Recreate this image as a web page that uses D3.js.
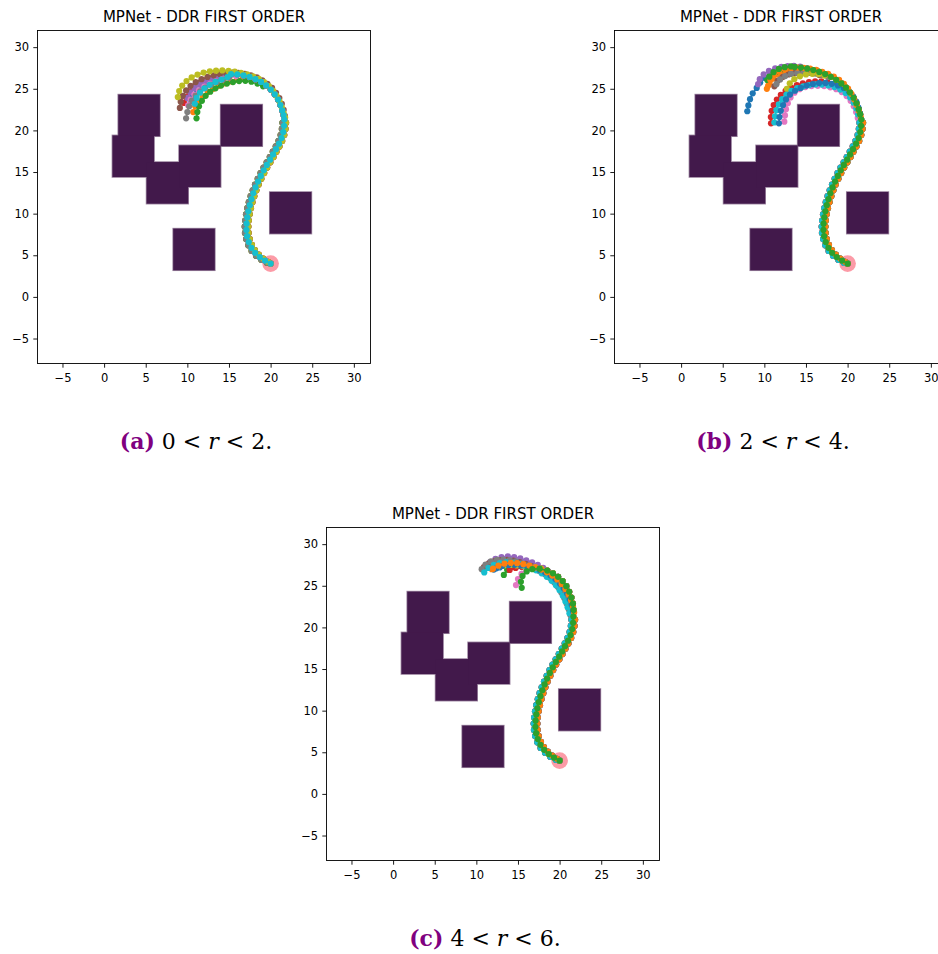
<!DOCTYPE html>
<html>
<head>
<meta charset="utf-8">
<script src="https://cdn.jsdelivr.net/npm/d3@7"></script>
<style>
  body { margin: 0; background: #fff; }
  svg { display: block; }
</style>
</head>
<body>
<div id="chart"></div>
<script>
// ---------------- data ----------------
const tab10 = ['#1f77b4','#ff7f0e','#2ca02c','#d62728','#9467bd','#8c564b','#e377c2','#7f7f7f','#bcbd22','#17becf'];
const ticks = [-5, 0, 5, 10, 15, 20, 25, 30];
const domain = [-8, 32];
const goal = [20, 4];
const obstacleSize = 5;
// lower-left corners of the 5x5 obstacles
const obstacles = [[1.7,19.3],[1.0,14.4],[5.1,11.2],[9.0,13.2],[14.0,18.1],[19.9,7.6],[8.3,3.2]];
const captionLabels = ['(a)', '(b)', '(c)'];
const rLow = [0, 2, 4];
const rHigh = [2, 4, 6];

// common descending part of every path, three neighbouring lanes
const tailMid = [[21.65,21.3],[21.62,20.55],[21.52,19.8],[21.32,19.08],[21.02,18.4],[20.65,17.75],[20.3,17.12],[19.95,16.48],[19.55,15.85],[19.18,15.2],[18.83,14.53],[18.5,13.85],[18.2,13.15],[17.93,12.45],[17.7,11.74],[17.5,11.02],[17.33,10.29],[17.2,9.55],[17.12,8.8],[17.1,8.05],[17.18,7.3],[17.38,6.58],[17.7,5.9],[18.15,5.3],[18.7,4.78],[19.33,4.36],[20.0,4.0]];
const tailRight = [[21.86,20.92],[21.79,20.18],[21.64,19.44],[21.39,18.74],[21.06,18.08],[20.7,17.44],[20.35,16.8],[19.97,16.17],[19.59,15.53],[19.23,14.87],[18.89,14.19],[18.57,13.5],[18.29,12.8],[18.04,12.1],[17.82,11.38],[17.64,10.66],[17.49,9.92],[17.38,9.18],[17.33,8.43],[17.36,7.68],[17.5,6.94],[17.76,6.24],[18.12,5.62],[18.58,5.08],[19.12,4.6],[19.7,4.22],[20.0,4.0]];
const tailLeft = [[21.42,20.92],[21.35,20.18],[21.2,19.44],[20.95,18.74],[20.62,18.08],[20.26,17.44],[19.9,16.8],[19.53,16.17],[19.15,15.53],[18.79,14.87],[18.45,14.19],[18.13,13.5],[17.85,12.8],[17.6,12.1],[17.38,11.38],[17.2,10.66],[17.05,9.92],[16.94,9.18],[16.89,8.43],[16.92,7.68],[17.06,6.94],[17.32,6.2],[17.72,5.52],[18.25,4.94],[18.88,4.45],[19.55,4.1],[20.0,4.0]];

// top arc shared inside each panel
const arcA = [[14.5,26.7],[15.25,26.75],[16.0,26.72],[16.75,26.6],[17.48,26.42],[18.18,26.15],[18.85,25.82],[19.47,25.4],[20.02,24.9],[20.5,24.33],[20.9,23.7],[21.18,23.05],[21.4,22.4],[21.56,21.85]];
const arcB = [[12.9,27.6],[13.65,27.62],[14.4,27.55],[15.15,27.42],[15.88,27.25],[16.6,27.03],[17.3,26.76],[17.98,26.44],[18.63,26.07],[19.25,25.64],[19.8,25.13],[20.28,24.55],[20.72,23.92],[21.06,23.25],[21.32,22.55],[21.5,21.95]];
const arcC = [[16.3,27.25],[17.05,27.2],[17.8,27.05],[18.52,26.82],[19.2,26.5],[19.82,26.08],[20.36,25.56],[20.8,24.95],[21.15,24.28],[21.42,23.58],[21.6,22.85],[21.68,22.1]];

// c: colour index, head: own points, from: where it joins the arc, tail: lane
const pathsA = [
  {c:0, head:[[10.4,23.5],[10.65,24.2],[11.1,24.8],[11.7,25.3],[12.35,25.7],[13.05,26.05],[13.75,26.35]], from:0, tail:'mid'},
  {c:1, head:[[10.7,22.2],[10.95,22.9],[11.35,23.55],[11.85,24.1],[12.45,24.6],[13.1,25.0],[13.8,25.35],[14.5,25.65],[15.22,25.9],[15.95,26.1],[16.7,26.3]], from:4, tail:'left'},
  {c:2, head:[[11.1,21.45],[11.2,22.2],[11.4,22.9],[11.75,23.55],[12.2,24.15],[12.75,24.65],[13.38,25.05],[14.05,25.38],[14.75,25.62],[15.48,25.8],[16.22,25.92],[16.97,25.95],[17.7,25.85],[18.42,25.62],[19.1,25.3]], from:8, tail:'left'},
  {c:3, head:[[9.6,23.3],[9.82,24.0],[10.2,24.65],[10.72,25.2],[11.35,25.62],[12.05,25.95],[12.85,26.2],[13.67,26.45]], from:0, tail:'right'},
  {c:4, head:[[10.0,23.9],[10.35,24.55],[10.85,25.1],[11.45,25.55],[12.15,25.9],[12.88,26.18],[13.62,26.4]], from:0, tail:'mid'},
  {c:5, head:[[9.1,22.7],[9.2,23.45],[9.45,24.15],[9.85,24.8],[10.38,25.35],[11.0,25.8],[11.7,26.15],[12.42,26.42],[13.16,26.62],[13.9,26.78],[14.65,26.9],[15.4,26.95],[16.15,26.92],[16.9,26.8],[17.63,26.62],[18.34,26.36],[19.0,26.02],[19.62,25.6],[20.18,25.1],[20.65,24.52],[21.05,23.88],[21.35,23.2],[21.57,22.48],[21.72,21.75]], from:99, tail:'right'},
  {c:6, head:[[10.1,23.0],[10.4,23.7],[10.85,24.3],[11.4,24.82],[12.05,25.25],[12.75,25.6],[13.47,25.9],[14.2,26.15],[15.0,26.38],[15.85,26.52]], from:3, tail:'mid'},
  {c:7, head:[[9.85,21.45],[10.0,22.2],[10.22,22.9],[10.55,23.58],[11.0,24.18],[11.55,24.7],[12.17,25.13],[12.85,25.5],[13.55,25.82],[14.28,26.1],[15.0,26.35]], from:2, tail:'left'},
  {c:8, head:[[8.85,24.0],[9.02,24.72],[9.38,25.38],[9.9,25.92],[10.52,26.36],[11.22,26.7],[11.95,26.95],[12.7,27.1],[13.45,27.18],[14.2,27.2],[14.95,27.15],[15.7,27.05],[16.45,26.92],[17.18,26.74],[17.9,26.5],[18.58,26.18],[19.22,25.8],[19.8,25.32],[20.3,24.76],[20.72,24.14],[21.07,23.48],[21.35,22.78],[21.58,22.06],[21.75,21.55]], from:99, tail:'right'},
  {c:9, head:[[10.9,23.2],[11.12,23.9],[11.52,24.52],[12.05,25.05],[12.68,25.48],[13.38,25.82],[14.1,26.1],[14.82,26.4]], from:1, tail:'mid'}
];

const pathsB = [
  {c:0, head:[[7.95,22.3],[8.08,23.0],[8.28,23.75],[8.6,24.45],[9.08,25.1],[9.5,25.75],[10.05,26.3],[10.7,26.75],[11.4,27.1],[12.15,27.35],[12.9,27.5]], from:1, tail:'right'},
  {c:1, head:[[10.3,25.0],[10.62,25.65],[11.1,26.22],[11.68,26.7],[12.33,27.05],[13.05,27.3],[13.8,27.4]], from:2, tail:'left'},
  {c:2, head:[[10.35,26.05],[10.8,26.62],[11.4,27.05],[12.1,27.35]], from:0, tail:'mid'},
  {c:3, head:[[10.8,20.85],[10.78,21.6],[10.88,22.35],[11.12,23.05],[11.5,23.7],[11.98,24.28],[12.55,24.76],[13.2,25.15],[13.9,25.45],[14.62,25.66],[15.36,25.8],[16.1,25.88],[16.85,25.88],[17.6,25.78],[18.32,25.58],[19.0,25.28],[19.62,24.85],[20.15,24.35]], from:12, tail:'left'},
  {c:4, head:[[9.25,25.55],[9.45,26.15],[9.92,26.72],[10.55,27.15],[11.3,27.45],[12.05,27.62],[12.8,27.72],[13.55,27.74],[14.3,27.66]], from:3, tail:'mid'},
  {c:5, head:[[11.2,25.3],[11.6,25.95],[12.2,26.42],[12.9,26.72],[13.65,26.9],[14.4,26.98],[15.15,26.95],[15.9,26.85],[16.62,26.65]], from:6, tail:'right'},
  {c:6, head:[[12.4,21.05],[12.48,21.8],[12.6,22.55],[12.82,23.27],[13.15,23.95],[13.62,24.52],[14.22,24.95],[14.92,25.2],[15.66,25.32],[16.42,25.36],[17.18,25.32],[17.92,25.18],[18.64,24.95],[19.3,24.6],[19.88,24.12],[20.36,23.55],[20.74,22.9],[21.02,22.2],[21.22,21.5]], from:99, tail:'left'},
  {c:7, head:[[11.45,25.55],[11.9,26.12],[12.5,26.52],[13.2,26.78],[13.95,26.88],[14.7,26.92],[15.45,26.9],[16.2,26.82],[16.95,26.66],[17.65,26.42]], from:8, tail:'left'},
  {c:8, head:[[12.7,25.0],[13.05,25.65],[13.6,26.15],[14.28,26.5],[15.0,26.72],[15.75,26.8],[16.5,26.75],[17.22,26.58]], from:7, tail:'right'},
  {c:9, head:[[11.2,20.95],[11.28,21.7],[11.45,22.43],[11.74,23.12],[12.15,23.75],[12.66,24.3],[13.26,24.75],[13.94,25.08],[14.66,25.3],[15.4,25.45],[16.16,25.52],[16.92,25.5],[17.68,25.4],[18.42,25.2],[19.12,24.9],[19.76,24.48],[20.3,23.95],[20.72,23.32],[21.04,22.63],[21.26,21.9]], from:99, tail:'left'},
  {c:0, head:[[11.75,20.85],[11.82,21.6],[11.98,22.35],[12.25,23.05],[12.6,23.72],[13.08,24.3],[13.68,24.76],[14.36,25.1],[15.08,25.38],[15.82,25.56],[16.58,25.68],[17.34,25.7],[18.1,25.6],[18.84,25.4],[19.54,25.1],[20.16,24.66],[20.66,24.1],[21.04,23.45],[21.3,22.75],[21.48,22.05]], from:99, tail:'right'},
  {c:1, head:[[10.45,25.35],[10.72,26.05],[11.18,26.64],[11.78,27.08],[12.48,27.36],[13.22,27.5],[13.98,27.55],[14.74,27.52],[15.5,27.42],[16.24,27.26],[16.96,27.04],[17.66,26.78],[18.34,26.46],[18.98,26.06],[19.56,25.58],[20.06,25.02],[20.46,24.38],[20.8,23.7],[21.1,23.02],[21.35,22.32],[21.58,21.62]], from:99, tail:'right'},
  {c:2, head:[[10.6,26.45],[11.1,27.0],[11.74,27.38],[12.45,27.6],[13.2,27.68]], from:1, tail:'mid'}
];

const pathsC = [
  {c:0, head:[[12.1,26.95],[12.8,27.2],[13.55,27.35],[14.3,27.4],[15.05,27.38],[15.8,27.32]], from:0, tail:'right'},
  {c:1, head:[[11.85,27.0],[12.5,27.35],[13.22,27.58],[13.97,27.68],[14.72,27.68],[15.47,27.6],[16.2,27.45],[16.92,27.25],[17.62,27.0],[18.3,26.7],[18.95,26.32],[19.55,25.86],[20.08,25.32],[20.52,24.72],[20.9,24.06],[21.2,23.36],[21.45,22.64],[21.62,21.9]], from:99, tail:'right'},
  {c:2, head:[[13.3,26.3],[13.7,26.92],[14.32,27.32],[15.04,27.52],[15.8,27.55],[16.55,27.45],[17.28,27.25]], from:2, tail:'mid'},
  {c:3, head:[[14.0,26.9],[14.72,27.15],[15.48,27.25],[16.24,27.22],[16.98,27.1]], from:2, tail:'left'},
  {c:4, head:[[11.65,27.85],[12.3,28.22],[13.02,28.45],[13.78,28.52],[14.54,28.45],[15.28,28.28],[16.0,28.06],[16.7,27.8],[17.38,27.5],[18.03,27.14],[18.64,26.72],[19.22,26.24]], from:5, tail:'right'},
  {c:5, head:[[10.9,27.25],[11.5,27.68],[12.2,27.95],[12.95,28.08],[13.7,28.1],[14.45,28.02],[15.2,27.85],[15.92,27.62],[16.62,27.36]], from:1, tail:'left'},
  {c:6, head:[[14.76,25.08],[15.0,25.8],[15.42,26.42],[15.98,26.9],[16.68,27.15]], from:1, tail:'mid'},
  {c:7, head:[[10.64,27.0],[11.1,27.55],[11.75,27.92],[12.48,28.1],[13.24,28.15],[14.0,28.08],[14.75,27.92],[15.48,27.7],[16.18,27.42],[16.88,27.12],[17.55,26.78],[18.2,26.4],[18.8,25.95],[19.34,25.42],[19.8,24.84],[20.2,24.2],[20.55,23.54],[20.85,22.85],[21.1,22.15],[21.3,21.45]], from:99, tail:'left'},
  {c:8, head:[[12.6,27.3],[13.35,27.45],[14.1,27.5],[14.85,27.45],[15.6,27.35]], from:0, tail:'mid'},
  {c:9, head:[[10.95,26.6],[11.45,27.15],[12.1,27.52],[12.82,27.72],[13.58,27.8],[14.34,27.75],[15.08,27.62],[15.8,27.42],[16.5,27.16],[17.18,26.86],[17.84,26.5],[18.46,26.08],[19.04,25.6],[19.56,25.06],[20.0,24.46],[20.38,23.8],[20.7,23.12],[20.96,22.42],[21.18,21.7]], from:99, tail:'left'},
  {c:0, head:[[12.4,27.1],[13.1,27.38],[13.85,27.5],[14.6,27.52],[15.35,27.45],[16.1,27.32],[16.84,27.15],[17.56,26.92],[18.25,26.62],[18.9,26.25],[19.5,25.8],[20.04,25.28],[20.5,24.7],[20.9,24.06],[21.22,23.38],[21.46,22.68],[21.62,21.95]], from:99, tail:'right'},
  {c:1, head:[[12.0,27.05],[12.65,27.42],[13.38,27.65],[14.14,27.75],[14.9,27.72],[15.65,27.6],[16.38,27.42],[17.1,27.2],[17.8,26.94],[18.48,26.62],[19.12,26.22],[19.72,25.76],[20.25,25.22],[20.7,24.62],[21.08,23.96],[21.38,23.26],[21.6,22.54],[21.75,21.8]], from:99, tail:'right'},
  {c:2, head:[[15.45,24.75],[15.35,25.48],[15.55,26.18],[16.05,26.72],[16.72,27.0],[17.6,27.05]], from:3, tail:'mid'}
];

const tails = {mid: tailMid, right: tailRight, left: tailLeft};

// ---------------- layout ----------------
const totalWidth = 938, totalHeight = 954;
const axesSize = 333;
const panels = [
  {left: 37.5, top: 30.5, arc: arcA, paths: pathsA},
  {left: 614.5, top: 30.5, arc: arcB, paths: pathsB},
  {left: 326.5, top: 527.5, arc: arcC, paths: pathsC}
];
const settings = {
  obstacle: '#42194b',
  obstacleEdge: '#9b849f',
  goal: '#fc9ba7',
  dotRadius: 3.1,
  lineWidth: 1.6,
  tickFont: 11.5,
  titleFont: 15
};

const svg = d3.select('#chart').append('svg')
  .attr('width', totalWidth)
  .attr('height', totalHeight)
  .style('background', '#fff');

panels.forEach(function(panel, i){ drawPanel(panel, i); });

function drawPanel(panel, i){
  const x = d3.scaleLinear().domain(domain).range([0, axesSize]);
  const y = d3.scaleLinear().domain(domain).range([axesSize, 0]);

  const g = svg.append('g')
    .attr('transform', 'translate(' + panel.left + ',' + panel.top + ')');

//--------------------- obstacles (edge layer, then fill layer) ---------------
  const rectAttrs = function(sel){
    sel.attr('x', function(d){ return x(d[0]); })
      .attr('y', function(d){ return y(d[1] + obstacleSize); })
      .attr('width', function(d){ return x(d[0] + obstacleSize) - x(d[0]); })
      .attr('height', function(d){ return y(d[1]) - y(d[1] + obstacleSize); });
  };
  g.append('g').selectAll('rect').data(obstacles).enter().append('rect')
    .call(rectAttrs)
    .attr('fill', 'none')
    .attr('stroke', settings.obstacleEdge)
    .attr('stroke-width', 1.6);
  g.append('g').selectAll('rect').data(obstacles).enter().append('rect')
    .call(rectAttrs)
    .attr('fill', settings.obstacle);

//--------------------- goal ---------------------------------------------------
  g.append('circle')
    .attr('cx', x(goal[0]))
    .attr('cy', y(goal[1]))
    .attr('r', x(1) - x(0))
    .attr('fill', settings.goal);

//--------------------- paths --------------------------------------------------
  const line = d3.line()
    .x(function(d){ return x(d[0]); })
    .y(function(d){ return y(d[1]); });

  panel.paths.forEach(function(p){
    const pts = p.head.concat(panel.arc.slice(p.from), tails[p.tail]);
    const color = tab10[p.c];
    const pg = g.append('g');
    pg.append('path')
      .attr('d', line(pts))
      .attr('fill', 'none')
      .attr('stroke', color)
      .attr('stroke-width', settings.lineWidth);
    pg.selectAll('circle').data(pts).enter().append('circle')
      .attr('cx', function(d){ return x(d[0]); })
      .attr('cy', function(d){ return y(d[1]); })
      .attr('r', settings.dotRadius)
      .attr('fill', color);
  });

//--------------------- axes ---------------------------------------------------
  const fmt = function(d){ return d < 0 ? '\u2212' + Math.abs(d) : String(d); };
  const xAxis = g.append('g')
    .attr('transform', 'translate(0,' + axesSize + ')')
    .call(d3.axisBottom(x).tickValues(ticks).tickFormat(fmt).tickSize(4.2).tickPadding(4.2));
  xAxis.selectAll('text').attr('dy', '0.9em');
  const yAxis = g.append('g')
    .call(d3.axisLeft(y).tickValues(ticks).tickFormat(fmt).tickSize(4.2).tickPadding(4.2));
  [xAxis, yAxis].forEach(function(a){
    a.select('.domain').remove();
    a.selectAll('text')
      .style('font-family', 'DejaVu Sans')
      .style('font-size', settings.tickFont + 'px')
      .attr('fill', '#000');
    a.selectAll('line').attr('stroke', '#000').attr('stroke-width', 0.9);
  });

  g.append('rect')
    .attr('width', axesSize)
    .attr('height', axesSize)
    .attr('fill', 'none')
    .attr('stroke', '#000')
    .attr('stroke-width', 0.9);

  g.append('text')
    .attr('x', axesSize / 2)
    .attr('y', -8.8)
    .attr('text-anchor', 'middle')
    .style('font-family', 'DejaVu Sans')
    .style('font-size', settings.titleFont + 'px')
    .text('MPNet - DDR FIRST ORDER');

//--------------------- caption ------------------------------------------------
  const cap = g.append('text')
    .attr('x', axesSize / 2 - 8)
    .attr('y', axesSize + 85)
    .attr('text-anchor', 'middle')
    .style('font-family', 'DejaVu Serif')
    .style('font-size', '22px')
    .style('white-space', 'pre');
  cap.append('tspan').attr('fill', '#800080').style('font-weight', 'bold').text(captionLabels[i]);
  cap.append('tspan').text(' ' + rLow[i] + ' < ');
  cap.append('tspan').style('font-style', 'italic').text('r');
  cap.append('tspan').text(' < ' + rHigh[i] + '.');
}
</script>
</body>
</html>
